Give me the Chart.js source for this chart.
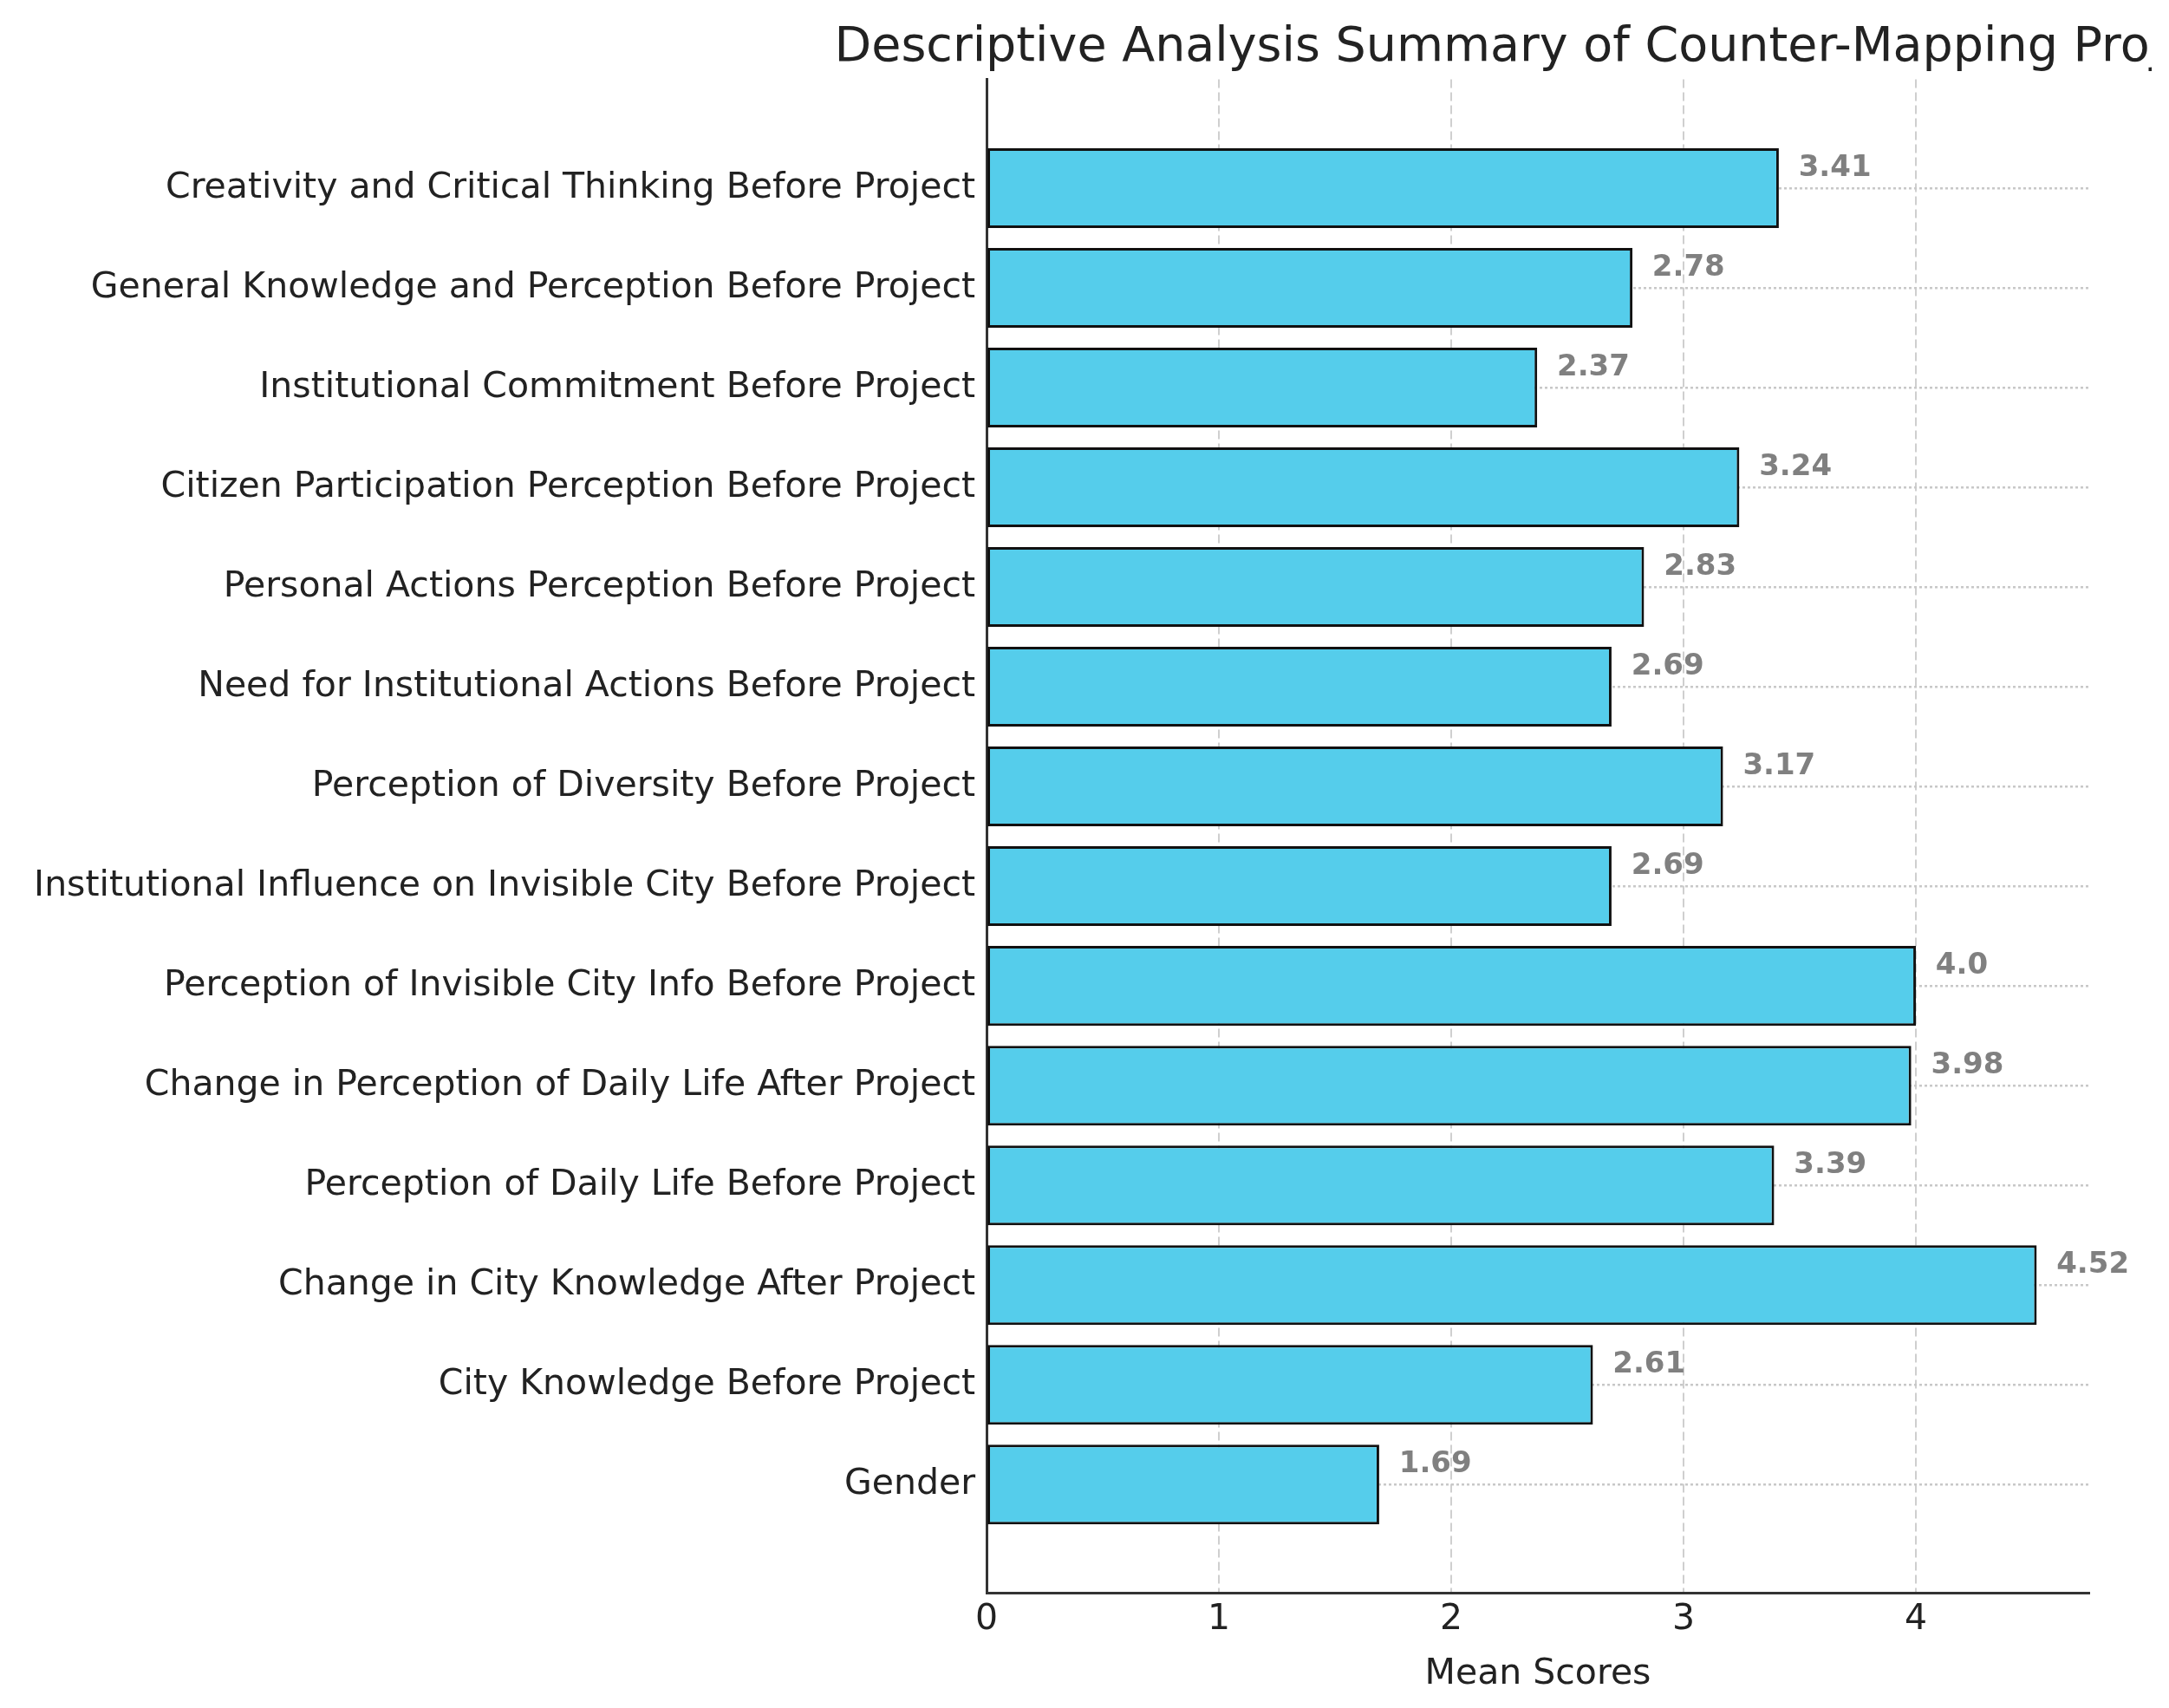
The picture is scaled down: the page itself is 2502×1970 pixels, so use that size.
<!DOCTYPE html>
<html>
<head>
<meta charset="utf-8">
<script src="https://cdn.jsdelivr.net/npm/chart.js@4/dist/chart.umd.min.js"></script>
<style>
  html, body { margin: 0; padding: 0; background: #fff; overflow: hidden; }
  #wrap { width: 2482px; height: 1970px; overflow: hidden; }
  #myChart { display: block; }
</style>
</head>
<body>
<div id="wrap"><canvas id="myChart" width="3544" height="1970"></canvas></div>
<script>
// categorias de arriba hacia abajo
const categorias = [
  "Creativity and Critical Thinking Before Project",
  "General Knowledge and Perception Before Project",
  "Institutional Commitment Before Project",
  "Citizen Participation Perception Before Project",
  "Personal Actions Perception Before Project",
  "Need for Institutional Actions Before Project",
  "Perception of Diversity Before Project",
  "Institutional Influence on Invisible City Before Project",
  "Perception of Invisible City Info Before Project",
  "Change in Perception of Daily Life After Project",
  "Perception of Daily Life Before Project",
  "Change in City Knowledge After Project",
  "City Knowledge Before Project",
  "Gender"
];
const valores = [3.41, 2.78, 2.37, 3.24, 2.83, 2.69, 3.17, 2.69, 4.0, 3.98, 3.39, 4.52, 2.61, 1.69];
const ticksX = [0, 1, 2, 3, 4];

const titulo = "Descriptive Analysis Summary of Counter-Mapping Project";
const tituloX = "Mean Scores";

const fuente = "'DejaVu Sans', 'Liberation Sans', sans-serif";

function formatoValor(v) {
  return Number.isInteger(v) ? v.toFixed(1) : String(v);
}

// etiquetas de valor junto a cada barra
const etiquetasValor = {
  id: "etiquetasValor",
  afterDraw(chart) {
    const ctx = chart.ctx;
    const xs = chart.scales.x;
    const ys = chart.scales.y;
    ctx.save();
    ctx.font = "bold 34px " + fuente;
    ctx.fillStyle = "#808080";
    ctx.textAlign = "left";
    ctx.textBaseline = "middle";
    valores.forEach((v, i) => {
      ctx.fillText(formatoValor(v), xs.getPixelForValue(v + 0.085), ys.getPixelForValue(i - 0.2));
    });
    ctx.restore();
  }
};

const n = categorias.length;
const margenY = 0.4 + 0.05 * (n - 1 + 0.8);

const config = {
  type: "bar",
  data: {
    datasets: [
      {
        data: valores.map((v, i) => ({ x: v, y: i })),
        backgroundColor: "#55CDEB",
        borderColor: "#111111",
        borderWidth: 3,
        borderSkipped: false,
        categoryPercentage: 1,
        barPercentage: 0.8
      }
    ]
  },
  options: {
    indexAxis: "y",
    responsive: false,
    animation: false,
    devicePixelRatio: 1,
    layout: { padding: 0 },
    plugins: {
      legend: { display: false },
      tooltip: { enabled: false },
      title: {
        display: true,
        text: titulo,
        color: "#222222",
        font: { family: fuente, size: 55.5, weight: "normal" },
        padding: { top: 22, bottom: 3 }
      }
    },
    scales: {
      x: {
        type: "linear",
        min: 0,
        max: Math.max(...valores) * 1.05,
        z: 1,
        afterBuildTicks: (scale) => {
          scale.ticks = ticksX.map((t) => ({ value: t }));
        },
        afterFit: (scale) => {
          // el título queda centrado más a la derecha, sobre el área del gráfico
          scale.paddingRight = 1134;
        },
        ticks: {
          color: "#222222",
          font: { family: fuente, size: 41 },
          padding: 6,
          maxRotation: 0
        },
        grid: { color: "#cfcfcf", lineWidth: 2, drawTicks: false },
        border: { display: true, color: "#333333", width: 3, dash: [10, 5] },
        title: {
          display: true,
          text: tituloX,
          color: "#222222",
          font: { family: fuente, size: 41 },
          padding: { top: 8, bottom: 14 }
        }
      },
      y: {
        type: "linear",
        reverse: true,
        offset: false,
        min: -margenY,
        max: n - 1 + margenY,
        z: 1,
        afterBuildTicks: (scale) => {
          scale.ticks = categorias.map((c, i) => ({ value: i }));
        },
        afterFit: (scale) => {
          scale.width = 1138;
        },
        ticks: {
          color: "#222222",
          font: { family: fuente, size: 41 },
          padding: 13,
          autoSkip: false,
          callback: (value) => categorias[value] || ""
        },
        grid: { color: "#c8c8c8", lineWidth: 2.5, drawTicks: false, offset: false },
        border: { display: true, color: "#333333", width: 3, dash: [3, 3] }
      }
    }
  },
  plugins: [etiquetasValor]
};

new Chart(document.getElementById("myChart"), config);
</script>
</body>
</html>
